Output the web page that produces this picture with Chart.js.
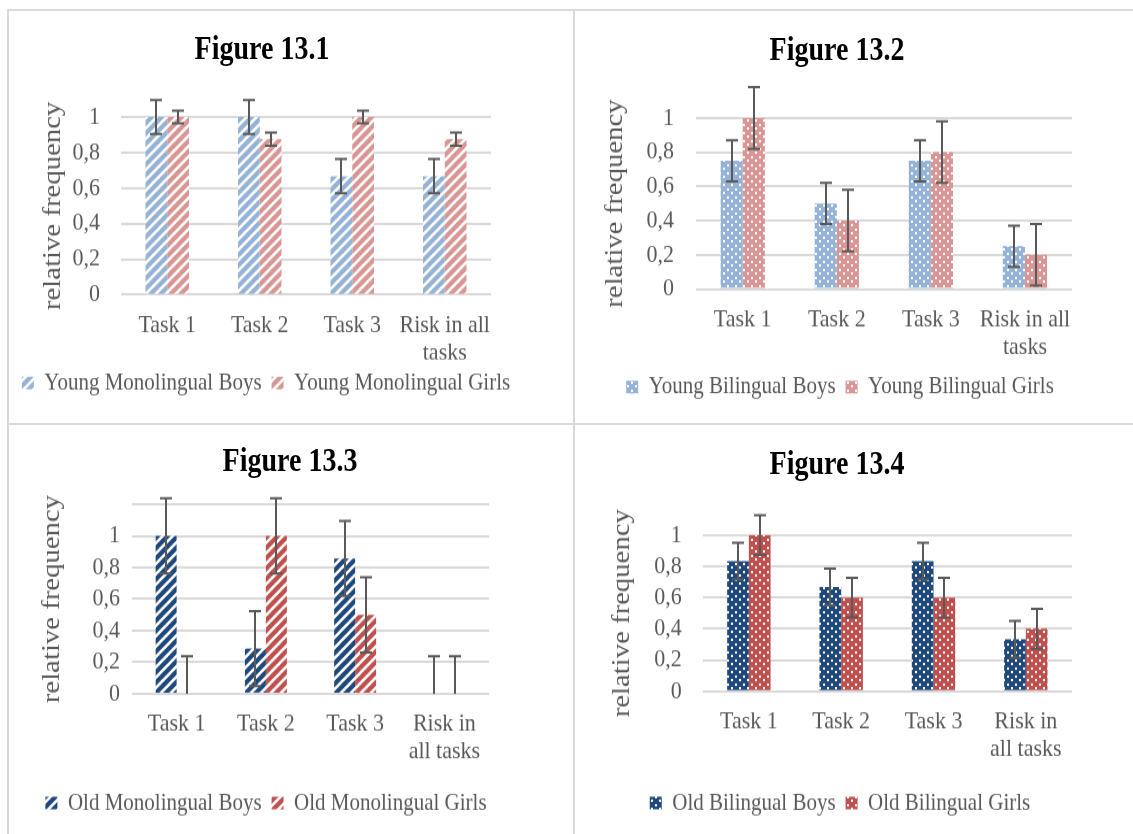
<!DOCTYPE html>
<html>
<head>
<meta charset="utf-8">
<script src="https://cdn.jsdelivr.net/npm/chart.js@4"></script>
<style>
  body { margin: 0; background: #fff; }
  #page { position: relative; width: 1133px; height: 834px; overflow: hidden; }
  canvas { position: absolute; }
  .title { position: absolute; width: 300px; text-align: center; font: bold 28px 'Liberation Serif', serif; line-height: 34px; color: #000; transform: scaleY(1.2); }
  .rule { position: absolute; background: #d9d9d9; }
</style>
</head>
<body>
<div id="page">
  <!-- canvases are drawn a bit shorter and stretched by CSS, like the source image -->
  <canvas id="fig1" width="532" height="359" style="left:0px;top:10px;width:532px;height:413px"></canvas>
  <canvas id="fig2" width="532" height="359" style="left:574px;top:10px;width:532px;height:413px"></canvas>
  <canvas id="fig3" width="532" height="356" style="left:0px;top:425px;width:532px;height:409px"></canvas>
  <canvas id="fig4" width="532" height="356" style="left:574px;top:425px;width:532px;height:409px"></canvas>
  <div class="title" style="left:112px;top:31px">Figure 13.1</div>
  <div class="title" style="left:687px;top:32px">Figure 13.2</div>
  <div class="title" style="left:140px;top:443px">Figure 13.3</div>
  <div class="title" style="left:687px;top:446px">Figure 13.4</div>
  <div class="rule" style="left:7px;top:9px;width:1126px;height:2px"></div>
  <div class="rule" style="left:7px;top:9px;width:2px;height:825px"></div>
  <div class="rule" style="left:573px;top:9px;width:2px;height:825px"></div>
  <div class="rule" style="left:7px;top:423px;width:1126px;height:2px"></div>
</div>
<script>
// categories
const tasksA = ['Task 1', 'Task 2', 'Task 3', ['Risk in all', 'tasks']];
const tasksB = ['Task 1', 'Task 2', 'Task 3', ['Risk in', 'all tasks']];
const yTickLabels = ['0', '0,2', '0,4', '0,6', '0,8', '1'];

// Figure 13.1
const youngMonoBoys = [1, 1, 0.667, 0.667];
const youngMonoGirls = [1, 0.875, 1, 0.875];
const youngMonoBoysErr = [0.096, 0.096, 0.096, 0.096];
const youngMonoGirlsErr = [0.036, 0.037, 0.036, 0.037];

// Figure 13.2
const youngBiBoys = [0.75, 0.5, 0.75, 0.25];
const youngBiGirls = [1, 0.4, 0.8, 0.2];
const youngBiBoysErr = [0.12, 0.12, 0.12, 0.12];
const youngBiGirlsErr = [0.18, 0.18, 0.18, 0.18];

// Figure 13.3
const oldMonoBoys = [1, 0.286, 0.857, 0];
const oldMonoGirls = [0, 1, 0.5, 0];
const oldMonoBoysErr = [0.238, 0.238, 0.238, 0.238];
const oldMonoGirlsErr = [0.238, 0.238, 0.238, 0.238];

// Figure 13.4
const oldBiBoys = [0.833, 0.667, 0.833, 0.333];
const oldBiGirls = [1, 0.6, 0.6, 0.4];
const oldBiBoysErr = [0.118, 0.118, 0.118, 0.118];
const oldBiGirlsErr = [0.127, 0.127, 0.127, 0.127];

Chart.defaults.font.family = "'Liberation Serif', serif";
Chart.defaults.color = '#595959';

// wide upward diagonal fill (tile is squashed, the canvas gets stretched back)
function stripes(color) {
    const w = 10, h = 9;
    const c = document.createElement('canvas');
    c.width = w;
    c.height = h;
    const g = c.getContext('2d');
    g.fillStyle = color;
    g.fillRect(0, 0, w, h);
    g.strokeStyle = '#fff';
    g.lineWidth = 2.5;
    g.beginPath();
    for (const k of [-1, 0, 1]) {
        g.moveTo(k * w - w, 2 * h);
        g.lineTo(k * w + 2 * w, -h);
    }
    g.stroke();
    return g.createPattern(c, 'repeat');
}

// small dots fill
function dots(color) {
    const c = document.createElement('canvas');
    c.width = 8;
    c.height = 7;
    const g = c.getContext('2d');
    g.fillStyle = color;
    g.fillRect(0, 0, 8, 7);
    g.fillStyle = '#fff';
    g.fillRect(1, 1, 2, 2);
    g.fillRect(5, 4, 2, 2);
    return g.createPattern(c, 'repeat');
}

const errorBars = {
    id: 'errorBars',
    afterDatasetsDraw(chart, args, opts) {
        const ctx = chart.ctx;
        const y = chart.scales.y;
        const cap = 6;
        ctx.save();
        ctx.strokeStyle = '#595959';
        ctx.lineWidth = 2;
        chart.data.datasets.forEach((ds, di) => {
            const meta = chart.getDatasetMeta(di);
            meta.data.forEach((bar, i) => {
                const v = ds.data[i];
                const e = opts.errors[di][i];
                const x = Math.round(bar.x);
                const top = y.getPixelForValue(v + e);
                const low = v - e;
                const bottom = y.getPixelForValue(Math.max(low, y.min));
                ctx.beginPath();
                ctx.moveTo(x, top);
                ctx.lineTo(x, bottom);
                ctx.moveTo(x - cap, top);
                ctx.lineTo(x + cap, top);
                if (low >= y.min) {
                    ctx.moveTo(x - cap, bottom);
                    ctx.lineTo(x + cap, bottom);
                }
                ctx.stroke();
            });
        });
        ctx.restore();
    }
};

function makeChart(id, labels, sets, errors, geo) {
    const canvas = document.getElementById(id);
    const h = canvas.height;
    const s = geo.pageH / h;              // css stretch factor
    const legendFont = 21, legendPad = 10;
    const plotBottom = geo.plotBottom / s;
    const legendTop = geo.legendY / s - legendPad - legendFont / 2;
    const legendH = legendFont + 2 * legendPad;
    const xLine = 1.1;

    return new Chart(canvas, {
        type: 'bar',
        data: {
            labels: labels,
            datasets: sets.map(d => ({
                label: d.label,
                data: d.data,
                backgroundColor: d.fill,
                borderWidth: 0,
                categoryPercentage: 0.47,
                barPercentage: 1
            }))
        },
        options: {
            responsive: false,
            animation: false,
            layout: { padding: { top: geo.plotTop / s, bottom: h - legendTop - legendH, left: 0, right: 0 } },
            scales: {
                x: {
                    grid: { display: false, drawTicks: false },
                    border: { display: false },
                    ticks: {
                        padding: geo.xLabelY / s - plotBottom - 22 * xLine / 2,
                        maxRotation: 0,
                        minRotation: 0,
                        autoSkip: false,
                        font: { size: 22, lineHeight: xLine }
                    },
                    afterFit: (sc) => { sc.height = legendTop - plotBottom; }
                },
                y: {
                    min: 0,
                    max: geo.yMax,
                    grid: { color: '#d9d9d9', lineWidth: 2, drawTicks: false },
                    border: { display: false },
                    ticks: {
                        stepSize: 0.2,
                        autoSkip: false,
                        padding: geo.yTickPad,
                        font: { size: 22, lineHeight: 1 },
                        callback: (v) => yTickLabels[Math.round(v / 0.2)] ?? ''
                    },
                    title: {
                        display: true,
                        text: 'relative frequency',
                        font: { size: 25, lineHeight: 1 },
                        padding: { top: geo.yTitleX - 12.5, bottom: 0 }
                    },
                    afterFit: (sc) => { sc.width = geo.yW; }
                },
                y2: {
                    position: 'right',
                    grid: { display: false, drawTicks: false },
                    border: { display: false },
                    ticks: { display: false },
                    afterFit: (sc) => { sc.width = geo.rW; }
                }
            },
            plugins: {
                legend: {
                    position: 'bottom',
                    labels: {
                        boxWidth: 12,
                        boxHeight: 11,
                        padding: legendPad,
                        font: { size: legendFont }
                    }
                },
                tooltip: { enabled: false },
                errorBars: { errors: errors }
            }
        },
        plugins: [errorBars]
    });
}

const lightBlue = '#95b3d7';
const lightRed = '#d99694';
const darkBlue = '#1f497d';
const darkRed = '#c0504d';

makeChart('fig1', tasksA, [
    { label: 'Young Monolingual Boys', data: youngMonoBoys, fill: stripes(lightBlue) },
    { label: 'Young Monolingual Girls', data: youngMonoGirls, fill: stripes(lightRed) }
], [youngMonoBoysErr, youngMonoGirlsErr],
{ pageH: 413, yMax: 1, plotTop: 107, plotBottom: 284.7, legendY: 373, xLabelY: 315,
  yW: 121, rW: 41, yTitleX: 53, yTickPad: 21 });

makeChart('fig2', tasksA, [
    { label: 'Young Bilingual Boys', data: youngBiBoys, fill: dots(lightBlue) },
    { label: 'Young Bilingual Girls', data: youngBiGirls, fill: dots(lightRed) }
], [youngBiBoysErr, youngBiGirlsErr],
{ pageH: 413, yMax: 1, plotTop: 108, plotBottom: 279, legendY: 377, xLabelY: 310,
  yW: 121.7, rW: 34, yTitleX: 41, yTickPad: 21.7 });

makeChart('fig3', tasksB, [
    { label: 'Old Monolingual Boys', data: oldMonoBoys, fill: stripes(darkBlue) },
    { label: 'Old Monolingual Girls', data: oldMonoGirls, fill: stripes(darkRed) }
], [oldMonoBoysErr, oldMonoGirlsErr],
{ pageH: 409, yMax: 1.2, plotTop: 79.3, plotBottom: 268.7, legendY: 378, xLabelY: 299,
  yW: 132, rW: 43, yTitleX: 52, yTickPad: 12 });

makeChart('fig4', tasksB, [
    { label: 'Old Bilingual Boys', data: oldBiBoys, fill: dots(darkBlue) },
    { label: 'Old Bilingual Girls', data: oldBiGirls, fill: dots(darkRed) }
], [oldBiBoysErr, oldBiGirlsErr],
{ pageH: 409, yMax: 1, plotTop: 110, plotBottom: 266.3, legendY: 378, xLabelY: 297,
  yW: 128.7, rW: 34, yTitleX: 48, yTickPad: 21 });
</script>
</body>
</html>
